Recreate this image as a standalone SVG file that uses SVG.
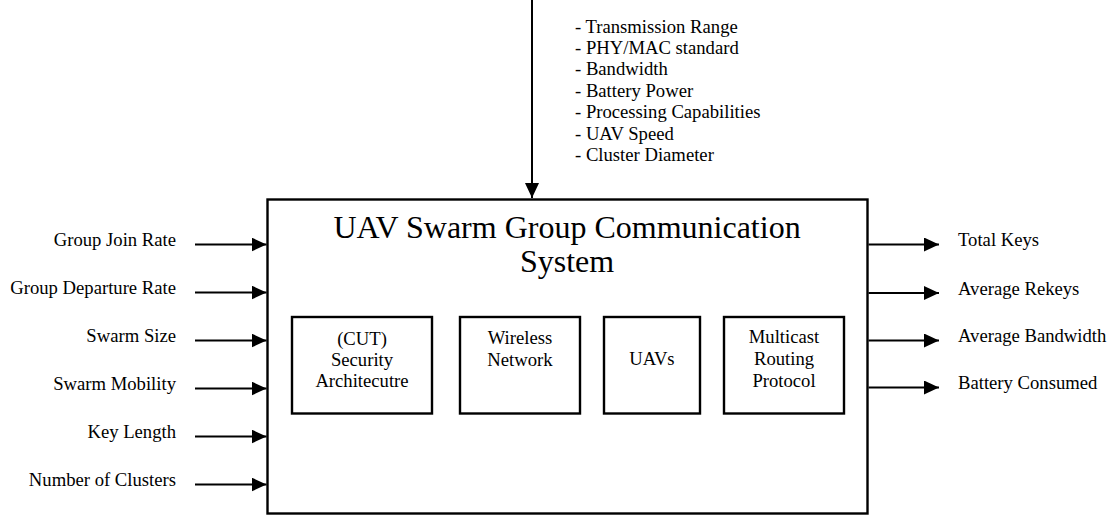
<svg xmlns="http://www.w3.org/2000/svg" width="1114" height="515" viewBox="0 0 1114 515" font-family="'Liberation Serif', 'Times New Roman', Tinos, 'DejaVu Serif', serif">
<defs>
<style>
text{font-family:'Liberation Serif','Times New Roman',Tinos,'DejaVu Serif',serif;font-size:18.67px;fill:#000}
.title{font-size:32px}
.box{fill:#fff;stroke:#000;stroke-width:2.4}
.edge{stroke:#000;stroke-width:2;fill:none}
.r{text-anchor:end}
.m{text-anchor:middle}
</style>
<marker id="ah" viewBox="0 0 15 14" refX="15" refY="7" markerWidth="15" markerHeight="14" markerUnits="userSpaceOnUse" orient="auto">
<path d="M0,0 L15,7 L0,14 Z" fill="#000"/>
</marker>
</defs>
<rect width="1114" height="515" fill="#fff"/>
<g id="system">
<rect class="box" x="267.5" y="199.5" width="600" height="314"/>
<text class="title m" x="567" y="238">UAV Swarm Group Communication</text>
<text class="title m" x="567" y="271.5">System</text>
</g>
<g id="security">
<rect class="box" x="292" y="317" width="140" height="96.5"/>
<text class="m" x="362" y="345">(CUT)</text>
<text class="m" x="362" y="366">Security</text>
<text class="m" x="362" y="387">Architecutre</text>
</g>
<g id="wireless">
<rect class="box" x="460" y="317" width="120" height="96.5"/>
<text class="m" x="520" y="344">Wireless</text>
<text class="m" x="520" y="366">Network</text>
</g>
<g id="uavs">
<rect class="box" x="604" y="317" width="96" height="96.5"/>
<text class="m" x="652" y="365">UAVs</text>
</g>
<g id="multicast">
<rect class="box" x="724" y="317" width="120" height="96.5"/>
<text class="m" x="784" y="343">Multicast</text>
<text class="m" x="784" y="365">Routing</text>
<text class="m" x="784" y="387">Protocol</text>
</g>
<g id="parameters">
<text x="575" y="32.5">- Transmission Range</text>
<text x="575" y="54">- PHY/MAC standard</text>
<text x="575" y="75.3">- Bandwidth</text>
<text x="575" y="96.7">- Battery Power</text>
<text x="575" y="118">- Processing Capabilities</text>
<text x="575" y="139.5">- UAV Speed</text>
<text x="575" y="161">- Cluster Diameter</text>
</g>
<g id="inputs">
<text class="r" x="176" y="246">Group Join Rate</text>
<text class="r" x="176" y="294">Group Departure Rate</text>
<text class="r" x="176" y="342">Swarm Size</text>
<text class="r" x="176" y="390">Swarm Mobility</text>
<text class="r" x="176" y="438">Key Length</text>
<text class="r" x="176" y="486">Number of Clusters</text>
</g>
<g id="outputs">
<text x="958" y="246">Total Keys</text>
<text x="958" y="294.5">Average Rekeys</text>
<text x="958" y="342">Average Bandwidth</text>
<text x="958" y="389">Battery Consumed</text>
</g>
<g id="connectors">
<line class="edge" x1="532" y1="0" x2="532" y2="198" marker-end="url(#ah)"/>
<line class="edge" x1="195" y1="244.5" x2="266.5" y2="244.5" marker-end="url(#ah)"/>
<line class="edge" x1="195" y1="292.5" x2="266.5" y2="292.5" marker-end="url(#ah)"/>
<line class="edge" x1="195" y1="340.5" x2="266.5" y2="340.5" marker-end="url(#ah)"/>
<line class="edge" x1="195" y1="388.5" x2="266.5" y2="388.5" marker-end="url(#ah)"/>
<line class="edge" x1="195" y1="436.5" x2="266.5" y2="436.5" marker-end="url(#ah)"/>
<line class="edge" x1="195" y1="484.5" x2="266.5" y2="484.5" marker-end="url(#ah)"/>
<line class="edge" x1="868.5" y1="244.5" x2="939" y2="244.5" marker-end="url(#ah)"/>
<line class="edge" x1="868.5" y1="293" x2="939" y2="293" marker-end="url(#ah)"/>
<line class="edge" x1="868.5" y1="340.5" x2="939" y2="340.5" marker-end="url(#ah)"/>
<line class="edge" x1="868.5" y1="387.5" x2="939" y2="387.5" marker-end="url(#ah)"/>
</g>
</svg>
